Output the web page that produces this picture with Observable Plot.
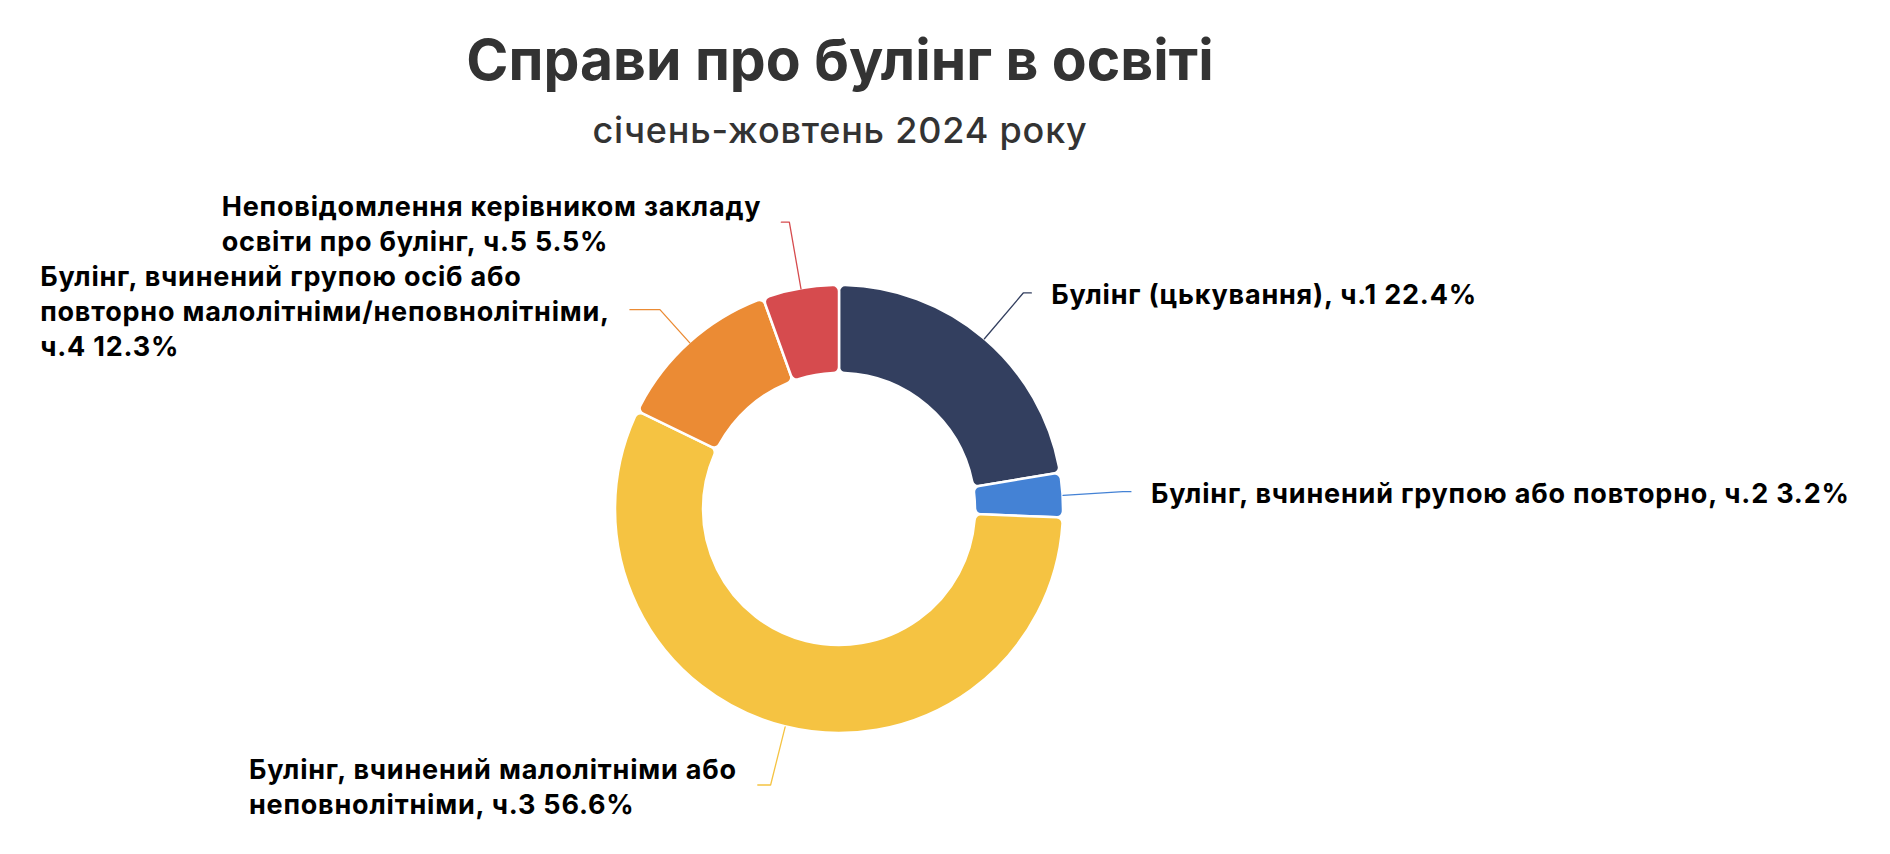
<!DOCTYPE html>
<html>
<head>
<meta charset="utf-8">
<script src="https://cdn.jsdelivr.net/npm/d3@7"></script>
<script src="https://cdn.jsdelivr.net/npm/@observablehq/plot@0.6"></script>
<style>
  html, body { margin: 0; padding: 0; background: #fff; }
  #wrap { position: relative; width: 1890px; height: 854px; overflow: hidden; font-family: Inter, "Noto Sans", sans-serif; }
  #title { position: absolute; left: 0; width: 1680px; top: 31px; text-align: center; font-size: 57px; line-height: 57px; font-weight: 700; color: #333; }
  #subtitle { position: absolute; left: 0; width: 1680px; top: 112px; text-align: center; font-size: 36px; line-height: 36px; font-weight: 500; letter-spacing: 0.8px; color: #333; }
  #chart { position: absolute; left: 0; top: 150px; }
</style>
</head>
<body>
<div id="wrap">
  <div id="title">Справи про булінг в освіті</div>
  <div id="subtitle">січень-жовтень 2024 року</div>
  <div id="chart"></div>
</div>
<script>
// ---- data ----
const categories = [
  "Булінг (цькування), ч.1",
  "Булінг, вчинений групою або повторно, ч.2",
  "Булінг, вчинений малолітніми або\nнеповнолітніми, ч.3",
  "Булінг, вчинений групою осіб або\nповторно малолітніми/неповнолітніми,\nч.4",
  "Неповідомлення керівником закладу\nосвіти про булінг, ч.5"
];
const shares = [22.4, 3.2, 56.6, 12.3, 5.5];
const colors = ["#333f5f", "#4482d5", "#f5c342", "#eb8b34", "#d64b4e"];

// ---- layout ----
const W = 1890, H = 704;
const CX = 839, CY = 359;          // pie centre inside the svg
const R_OUT = 224, R_IN = 136;
const LABEL_D = 60, LABEL_R = 286, CONN_PAD = 5, TEXT_GAP = 20, MIN_HOOK = 8;
const FONT_SIZE = 27, LINE_H = 35, LETTER_SP = 0.8;

const data = categories.map((c, i) => ({category: c, value: shares[i]}));

function draw() {
  const ctx = document.createElement("canvas").getContext("2d");
  ctx.font = `700 ${FONT_SIZE}px Inter`;
  const measure = s => ctx.measureText(s).width + LETTER_SP * s.length;

  const arcs = d3.pie().sort(null).value(d => d.value).startAngle(0).endAngle(2 * Math.PI)(data);

  // label layout (data units: px, y pointing up, origin at pie centre)
  const labels = arcs.map((a, i) => {
    const th = (a.startAngle + a.endAngle) / 2;
    const text = `${a.data.category} ${a.data.value.toFixed(1)}%`;
    const lines = text.split("\n");
    const width = d3.max(lines, measure);
    return {
      i, th, text, width,
      category: a.data.category,
      left: Math.sin(th) < 0,
      h: lines.length * LINE_H,
      y: (R_OUT + LABEL_D) * Math.cos(th)
    };
  });
  // simple collision avoidance on each side (taller blocks move more)
  for (const side of [true, false]) {
    const s = labels.filter(l => l.left === side).sort((a, b) => b.y - a.y);
    for (let k = 0; k < s.length - 1; k++) {
      const need = (s[k].h + s[k + 1].h) / 2;
      const o = need - (s[k].y - s[k + 1].y);
      if (o > 0) {
        const tot = s[k].h + s[k + 1].h;
        s[k].y += o * s[k].h / tot;
        s[k + 1].y -= o * s[k + 1].h / tot;
      }
    }
  }
  const connectors = [];
  for (const l of labels) {
    const sx = Math.sin(l.th), cy = Math.cos(l.th);
    const ax = R_OUT * sx, ay = R_OUT * cy;
    let t = Math.abs(cy) > 1e-3 ? (l.y - ay) / cy : LABEL_D;
    t = Math.max(10, Math.min(120, t));
    const kx = (R_OUT + t) * sx;
    const sign = l.left ? -1 : 1;
    let ex = sign * (Math.sqrt(Math.max(LABEL_R * LABEL_R - l.y * l.y, 0)) + CONN_PAD);
    ex = l.left ? Math.min(ex, kx - MIN_HOOK) : Math.max(ex, kx + MIN_HOOK);
    connectors.push({category: l.category, x: ax, y: ay});
    connectors.push({category: l.category, x: kx, y: l.y});
    connectors.push({category: l.category, x: ex, y: l.y});
    l.x = l.left ? ex - TEXT_GAP - l.width : ex + TEXT_GAP;
  }

  const chart = Plot.plot({
    width: W, height: H,
    margin: 0,
    style: {fontFamily: "Inter, 'Noto Sans', sans-serif", background: "white"},
    x: {domain: [-CX, W - CX], range: [0, W], axis: null},
    y: {domain: [-(H - CY), CY], range: [H, 0], axis: null},
    color: {domain: categories, range: colors},
    marks: [
      Plot.dot(data, {
        x: () => 0, y: () => 0, fill: "category",
        render(index, scales, values) {
          const x0 = scales.x(0), y0 = scales.y(0);
          const ro = scales.x(R_OUT) - x0, ri = scales.x(R_IN) - x0;
          const arc = d3.arc().innerRadius(ri).outerRadius(ro).cornerRadius(6);
          const g = d3.create("svg:g").attr("transform", `translate(${x0},${y0})`);
          g.selectAll("path").data(index).join("path")
            .attr("d", i => arc(arcs[i]))
            .attr("fill", i => values.fill[i])
            .attr("stroke", "white")
            .attr("stroke-width", 2.5)
            .attr("stroke-linejoin", "round");
          return g.node();
        }
      }),
      Plot.line(connectors, {x: "x", y: "y", z: "category", stroke: "category", strokeWidth: 1.3, curve: "linear"}),
      Plot.text(labels, {
        x: "x", y: "y", text: "text",
        textAnchor: "start", lineAnchor: "middle",
        fontSize: FONT_SIZE, fontWeight: 700, fill: "black",
        lineHeight: LINE_H / FONT_SIZE,
        render(index, scales, values, dimensions, context, next) {
          const g = next(index, scales, values, dimensions, context);
          g.setAttribute("letter-spacing", `${LETTER_SP}px`);
          return g;
        }
      })
    ]
  });
  document.getElementById("chart").appendChild(chart);
}

if (document.fonts && document.fonts.load) {
  document.fonts.load(`700 ${FONT_SIZE}px Inter`).then(draw, draw);
} else {
  draw();
}
</script>
</body>
</html>
